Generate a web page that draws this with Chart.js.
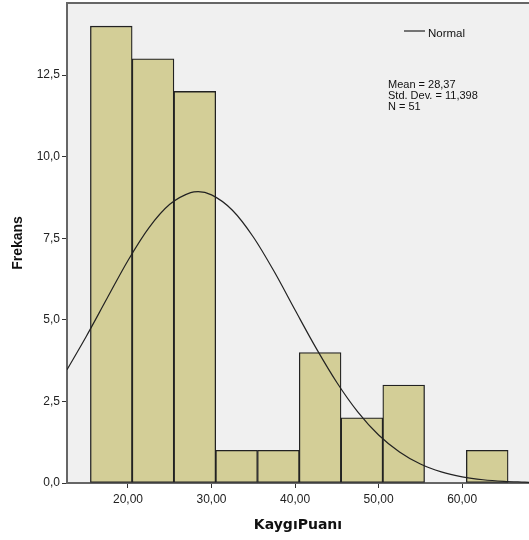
<!DOCTYPE html>
<html>
<head>
<meta charset="utf-8">
<script src="https://cdn.jsdelivr.net/npm/chart.js@4"></script>
<style>
  body { margin: 0; background: #fff; }
  #wrap { width: 529px; height: 540px; }
</style>
</head>
<body>
<div id="wrap"><canvas id="histo"></canvas></div>
<script>
// histogram bins (width 5), centre of each bin
const binCenters = [18, 23, 28, 33, 38, 43, 48, 53, 58, 63];
const counts = [14, 13, 12, 1, 1, 4, 2, 3, 0, 1];

// normal curve
const curveX = [12.7, 15, 17.5, 20, 22.5, 25, 27.5, 28.4, 30, 32.5, 35, 37.5, 40, 42.5, 45, 47.5, 50, 52.5, 55, 57.5, 60, 62.5, 65, 67.5, 68];
const curveY = [3.47, 4.49, 5.66, 6.82, 7.82, 8.54, 8.90, 8.93, 8.83, 8.36, 7.54, 6.48, 5.30, 4.14, 3.08, 2.18, 1.47, 0.95, 0.58, 0.34, 0.19, 0.10, 0.05, 0.025, 0.02];

const xTicks = [20, 30, 40, 50, 60];
const yTicks = [0, 2.5, 5, 7.5, 10, 12.5];

const comma = (v, d) => v.toFixed(d).replace('.', ',');

const frame = {
  id: 'frame',
  beforeDraw(chart) {
    const a = chart.chartArea, c = chart.ctx;
    c.save();
    c.fillStyle = '#f0f0f0';
    c.fillRect(a.left, a.top, a.right - a.left, a.bottom - a.top);
    c.restore();
  },
  afterDraw(chart) {
    const a = chart.chartArea, c = chart.ctx;
    c.save();
    c.strokeStyle = '#666';
    c.lineWidth = 2;
    c.beginPath();
    c.moveTo(a.left - 1, a.top);
    c.lineTo(a.right, a.top);
    c.stroke();
    // legend
    c.strokeStyle = '#555';
    c.lineWidth = 1.6;
    c.beginPath();
    c.moveTo(404, 31);
    c.lineTo(425, 31);
    c.stroke();
    c.fillStyle = '#111';
    c.font = '11.5px "Liberation Sans", Arial, sans-serif';
    c.textBaseline = 'alphabetic';
    c.fillText('Normal', 428, 37);
    c.font = '11px "Liberation Sans", Arial, sans-serif';
    c.fillText('Mean = 28,37', 388, 88);
    c.fillText('Std. Dev. = 11,398', 388, 99);
    c.fillText('N = 51', 388, 110);
    c.restore();
  }
};

const ctx = document.getElementById('histo').getContext('2d');
const histChart = new Chart(ctx, {
  type: 'bar',
  data: {
    datasets: [
      {
        type: 'line',
        data: curveX.map((x, i) => ({ x: x, y: curveY[i] })),
        borderColor: '#222',
        borderWidth: 1.2,
        pointRadius: 0,
        cubicInterpolationMode: 'monotone',
        fill: false,
        order: 0
      },
      {
        type: 'bar',
        data: binCenters.map((x, i) => ({ x: x, y: counts[i] })),
        backgroundColor: 'rgb(211, 206, 151)',
        borderColor: '#222',
        borderWidth: 1.3,
        borderSkipped: false,
        barPercentage: 1,
        categoryPercentage: 1,
        order: 1
      }
    ]
  },
  plugins: [frame],
  options: {
    responsive: true,
    maintainAspectRatio: false,
    animation: false,
    layout: { padding: { top: 3, right: 0, left: 0, bottom: 0 } },
    plugins: {
      legend: { display: false },
      tooltip: { enabled: false }
    },
    scales: {
      x: {
        type: 'linear',
        min: 12.7,
        max: 68,
        offset: false,
        afterFit: s => { s.height = 57; s.paddingLeft = 0; s.paddingRight = 0; },
        afterBuildTicks: s => { s.ticks = xTicks.map(v => ({ value: v })); },
        ticks: {
          color: '#222',
          font: { family: '"Liberation Sans", Arial, sans-serif', size: 12 },
          padding: 4,
          maxRotation: 0,
          callback: v => comma(v, 2)
        },
        grid: { offset: false, drawOnChartArea: false, drawTicks: true, tickLength: 5, color: '#333' },
        border: { display: true, color: '#666', width: 2 },
        title: {
          display: true,
          text: 'KaygıPuanı',
          color: '#111',
          font: { family: '"DejaVu Sans", sans-serif', size: 14, weight: 'bold' },
          padding: { top: 0, bottom: 6 }
        }
      },
      y: {
        min: 0,
        max: 14.71,
        afterFit: s => { s.width = 67; s.paddingTop = 0; s.paddingBottom = 0; },
        afterBuildTicks: s => { s.ticks = yTicks.map(v => ({ value: v })); },
        ticks: {
          color: '#222',
          font: { family: '"Liberation Sans", Arial, sans-serif', size: 12 },
          padding: 2,
          callback: v => comma(v, 1)
        },
        grid: { drawOnChartArea: false, drawTicks: true, tickLength: 5, color: '#333' },
        border: { display: true, color: '#666', width: 2 },
        title: {
          display: true,
          text: 'Frekans',
          color: '#111',
          font: { family: '"Liberation Sans", Arial, sans-serif', size: 14, weight: 'bold' },
          padding: { top: 10, bottom: 0 }
        }
      }
    }
  }
});
</script>
</body>
</html>
